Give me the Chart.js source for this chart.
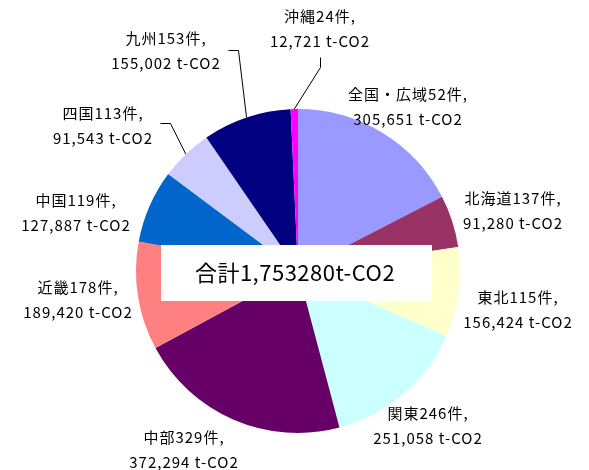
<!DOCTYPE html>
<html lang="ja">
<head>
<meta charset="utf-8">
<script src="https://cdn.jsdelivr.net/npm/chart.js@4/dist/chart.umd.min.js"></script>
<style>
  html, body { margin: 0; padding: 0; background: #fff; }
  #wrap { width: 589px; height: 470px; }
</style>
</head>
<body>
<div id="wrap"><canvas id="pie"></canvas></div>
<script>
// 地域ごとの件数と CO2 削減量
const regions = ['全国・広域', '北海道', '東北', '関東', '中部', '近畿', '中国', '四国', '九州', '沖縄'];
const counts = [52, 137, 115, 246, 329, 178, 119, 113, 153, 24];
const emissions = [305651, 91280, 156424, 251058, 372294, 189420, 127887, 91543, 155002, 12721];
const totalText = '合計1,753280t-CO2';

const colors = ['#9999FF', '#993366', '#FFFFCC', '#CCFFFF', '#660066',
                '#FF8080', '#0066CC', '#CCCCFF', '#000080', '#FF00FF'];

// ラベルの置き場所（1行目の中心）
const labelAt = [[408, 94], [513, 198], [518, 297], [428, 413], [184, 437],
                 [78, 287], [76, 200], [103, 113], [166, 38], [320, 16]];
// 引き出し線の折れ点 (始点, 折れ点)
const leaders = {
  7: [[160, 123], [170, 123]],
  8: [[228, 50], [238, 50]],
  9: [[320, 57], [320, 67]]
};

const FONT = '"Noto Sans CJK JP", "Noto Sans", sans-serif';

const labelPlugin = {
  id: 'labels',
  afterDraw(chart) {
    const c = chart.ctx;
    const arcs = chart.getDatasetMeta(0).data;
    c.save();
    // 引き出し線
    c.strokeStyle = '#000';
    c.lineWidth = 1;
    Object.keys(leaders).forEach(k => {
      const a = arcs[k];
      const mid = (a.startAngle + a.endAngle) / 2;
      const ex = a.x + Math.cos(mid) * a.outerRadius;
      const ey = a.y + Math.sin(mid) * a.outerRadius;
      const [p0, p1] = leaders[k];
      c.beginPath();
      c.moveTo(p0[0] + 0.5, p0[1] + 0.5);
      c.lineTo(p1[0] + 0.5, p1[1] + 0.5);
      c.lineTo(ex, ey);
      c.stroke();
    });
    // ラベル
    c.fillStyle = '#000';
    c.textAlign = 'center';
    c.textBaseline = 'middle';
    c.font = '15px ' + FONT;
    c.letterSpacing = '1px';
    regions.forEach((r, i) => {
      const [x, y] = labelAt[i];
      c.fillText(r + counts[i] + '件,', x, y);
      c.fillText(emissions[i].toLocaleString('en-US') + ' t-CO2', x, y + 25);
    });
    // 合計ボックス
    c.fillStyle = '#fff';
    c.fillRect(161, 245, 271, 56);
    c.fillStyle = '#000';
    c.font = '22px ' + FONT;
    c.letterSpacing = '0.5px';
    c.fillText(totalText, 295, 273);
    c.restore();
  }
};

new Chart(document.getElementById('pie'), {
  type: 'pie',
  data: {
    labels: regions,
    datasets: [{
      data: emissions,
      backgroundColor: colors,
      borderWidth: 0
    }]
  },
  options: {
    responsive: true,
    maintainAspectRatio: false,
    animation: false,
    layout: { padding: { left: 136, right: 129, top: 109, bottom: 37 } },
    plugins: {
      legend: { display: false },
      tooltip: { enabled: false }
    }
  },
  plugins: [labelPlugin]
});
</script>
</body>
</html>
